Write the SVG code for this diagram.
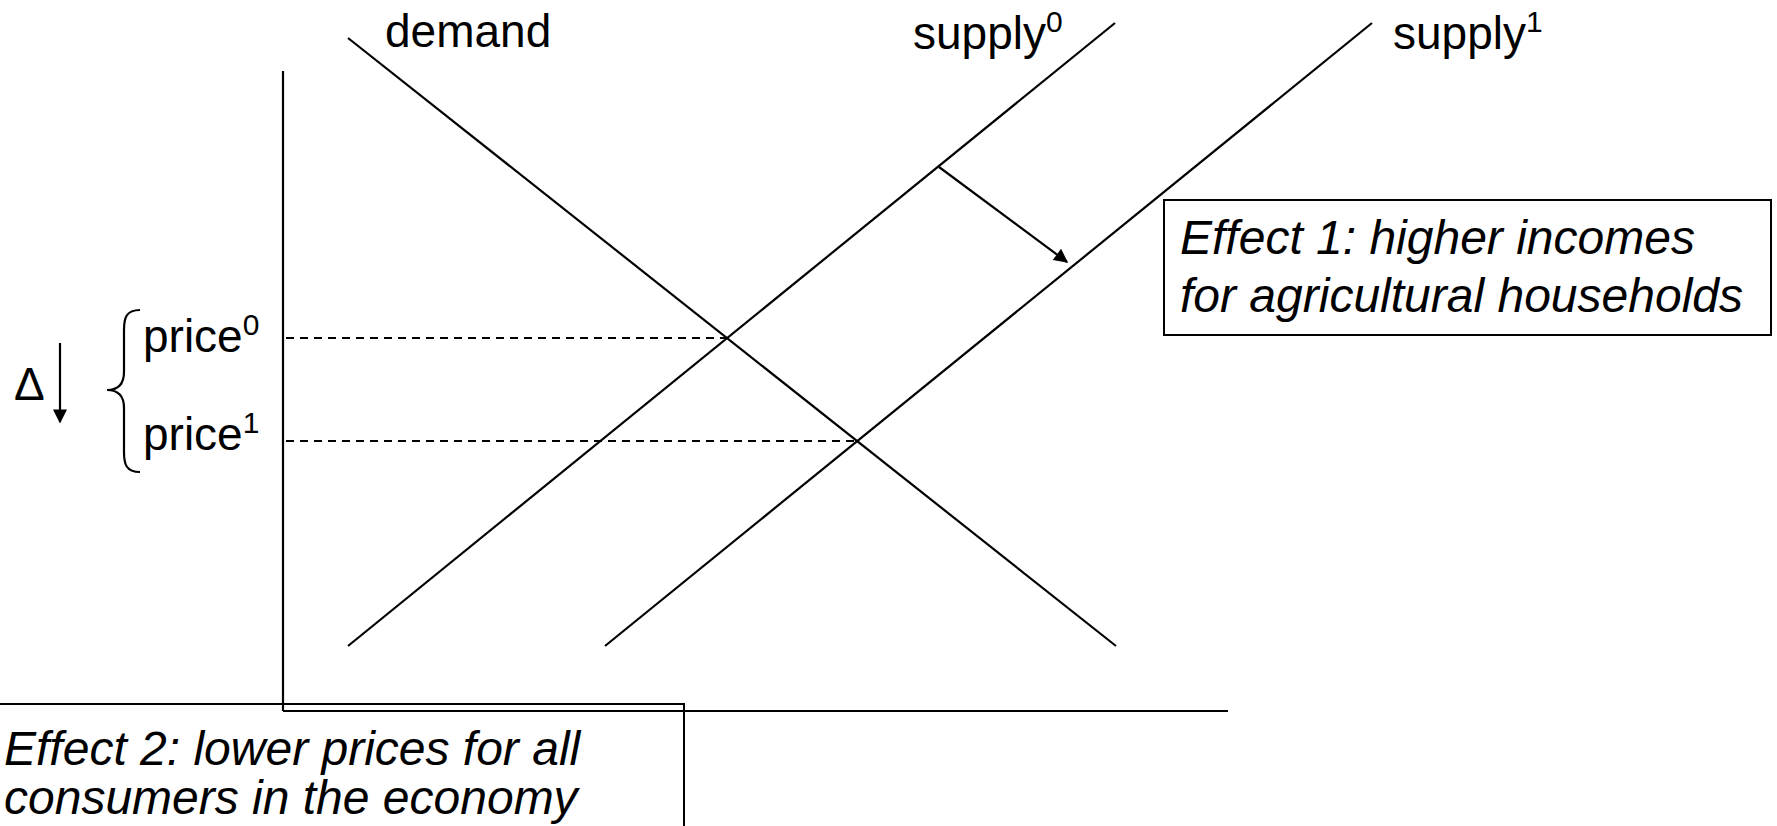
<svg xmlns="http://www.w3.org/2000/svg" width="1777" height="826" viewBox="0 0 1777 826">
  <style>
    .ln { stroke: #000; stroke-width: 2.2; fill: none; }
    .dash { stroke: #000; stroke-width: 1.8; stroke-dasharray: 8 6; fill: none; }
    .box { stroke: #000; stroke-width: 2; fill: none; }
    .lbl { font-family: "Liberation Sans", Arial, sans-serif; font-size: 46px; fill: #000; }
    .sup { font-size: 30px; }
    .note { font-family: "Liberation Sans", Arial, sans-serif; font-size: 48px; font-style: italic; fill: #000; }
  </style>
  <defs>
    <marker id="head" viewBox="0 0 10 10" refX="9" refY="5" markerWidth="16" markerHeight="14" markerUnits="userSpaceOnUse" orient="auto">
      <path d="M0,0 L10,5 L0,10 z" fill="#000"/>
    </marker>
  </defs>

  <!-- axes -->
  <g id="axes">
    <line class="ln" x1="283" y1="71" x2="283" y2="711"/>
    <line class="ln" x1="283" y1="711" x2="1228" y2="711"/>
  </g>

  <!-- demand and supply curves -->
  <g id="curves">
    <line class="ln" x1="348" y1="38" x2="1116" y2="646"/>
    <line class="ln" x1="348" y1="646" x2="1115" y2="23"/>
    <line class="ln" x1="605" y1="646" x2="1372" y2="23"/>
  </g>

  <!-- connectors: price guides, shift arrow, price-change arrow and brace -->
  <g id="connectors">
    <line class="dash" x1="286" y1="338" x2="727" y2="338"/>
    <line class="dash" x1="286" y1="441" x2="857" y2="441"/>
    <line class="ln" x1="939" y1="167" x2="1067" y2="262" marker-end="url(#head)"/>
    <line class="ln" x1="60" y1="343" x2="60" y2="422" marker-end="url(#head)"/>
    <path class="ln" d="M140,310 C126,310 124,318 124,330 L124,372 C124,384 118,390 107,390 C118,390 124,396 124,408 L124,452 C124,464 126,472 140,472"/>
  </g>

  <!-- curve labels -->
  <g id="label-demand">
    <text class="lbl" x="385" y="47">demand</text>
  </g>
  <g id="label-supply0">
    <text class="lbl" x="913" y="49">supply<tspan class="sup" dy="-17">0</tspan></text>
  </g>
  <g id="label-supply1">
    <text class="lbl" x="1393" y="49">supply<tspan class="sup" dy="-17">1</tspan></text>
  </g>

  <!-- price labels -->
  <g id="label-delta">
    <text class="lbl" x="14" y="400">Δ</text>
  </g>
  <g id="label-price0">
    <text class="lbl" x="143" y="352">price<tspan class="sup" dy="-17">0</tspan></text>
  </g>
  <g id="label-price1">
    <text class="lbl" x="143" y="450">price<tspan class="sup" dy="-17">1</tspan></text>
  </g>

  <!-- effect notes -->
  <g id="effect1">
    <rect class="box" x="1164" y="200" width="607" height="135"/>
    <text class="note" x="1180" y="254">Effect 1: higher incomes</text>
    <text class="note" x="1180" y="312">for agricultural households</text>
  </g>
  <g id="effect2">
    <path class="box" d="M-2,704 L684,704 L684,830"/>
    <text class="note" x="4" y="765">Effect 2: lower prices for all</text>
    <text class="note" x="4" y="814">consumers in the economy</text>
  </g>
</svg>
